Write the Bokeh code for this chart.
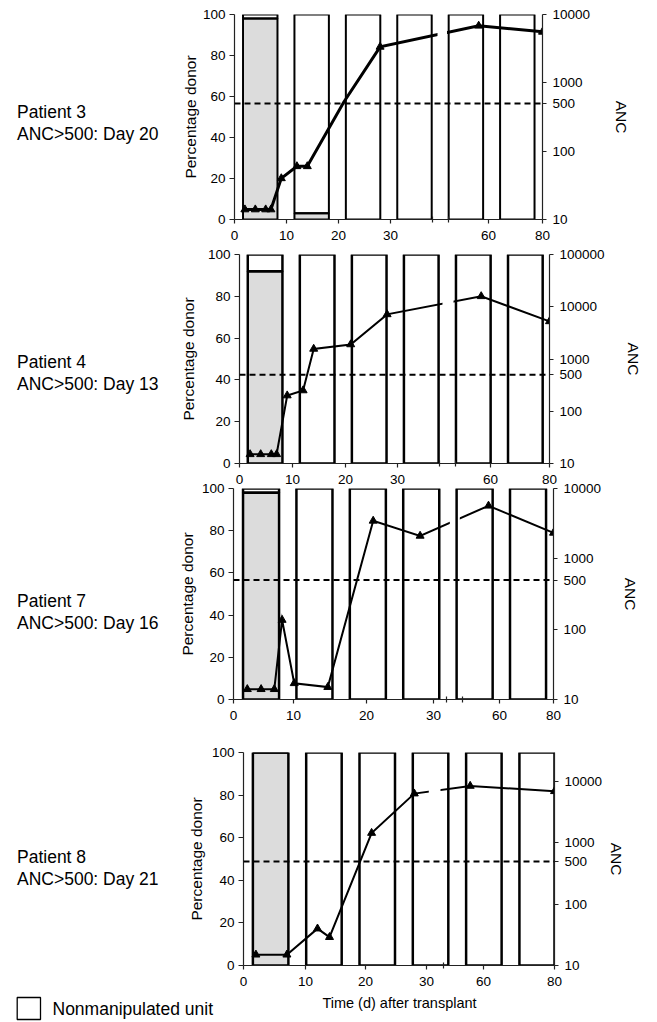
import numpy as np
from bokeh.plotting import figure
from bokeh.models import Range1d, LogScale, LogAxis, FixedTicker, Span, ColumnDataSource, Div
from bokeh.layouts import column, row
from bokeh.embed import file_html
from bokeh.resources import INLINE
from bokeh.core.properties import value

FONT = "Liberation Sans"
GRAY = "#dcdcdc"
INK = "#222222"

# ---------------- data ----------------
X_TICK_DAYS = [0, 10, 20, 30, 60, 80]
X_TICK_LABELS = ["0", "10", "20", "30", "60", "80"]
PCT_TICKS = [0, 20, 40, 60, 80, 100]
BAR_SLOTS = [0, 1, 2, 3, 4, 5]
ANC_THRESHOLD = 500

PATIENTS = ["Patient 3", "Patient 4", "Patient 7", "Patient 8"]
ENGRAFT_DAY = [20, 13, 16, 21]
X_TITLE = "Time (d) after transplant"
LEGEND_TEXT = "Nonmanipulated unit"

# Patient 3
P3_DAYS = [2, 4, 6, 7, 9, 12, 14, 21, 28, 57, 80]
P3_ANC = [14, 14, 14, 14, 40, 60, 60, 520, 3360, 6830, 5570]
P3_MARK = [1, 1, 1, 1, 1, 1, 1, 0, 1, 1, 1]
P3_MANIP = [98, 3, 0, 0, 0, 0]

# Patient 4
P4_DAYS = [2, 4, 6, 7, 9, 12, 14, 21, 28, 57, 80]
P4_ANC = [15, 15, 15, 15, 200, 250, 1560, 1900, 7150, 15850, 5250]
P4_MARK = [1] * 11
P4_MANIP = [92, 0, 0, 0, 0, 0]

# Patient 7
P7_DAYS = [2.3, 4.6, 6.8, 8.1, 10.1, 14.7, 21, 28, 55, 80]
P7_ANC = [14, 14, 14, 135, 17, 15, 3470, 2120, 5680, 2340]
P7_MARK = [1] * 10
P7_MANIP = [98, 0, 0, 0, 0, 0]

# Patient 8
P8_DAYS = [2, 7, 12, 14, 21, 28, 53, 80]
P8_ANC = [15, 15, 40, 29, 1455, 6400, 8530, 6990]
P8_MARK = [1] * 8
P8_MANIP = [100, 0, 0, 0, 0, 0]

SERIES = [
    (P3_DAYS, P3_ANC, P3_MARK, P3_MANIP),
    (P4_DAYS, P4_ANC, P4_MARK, P4_MANIP),
    (P7_DAYS, P7_ANC, P7_MARK, P7_MANIP),
    (P8_DAYS, P8_ANC, P8_MARK, P8_MANIP),
]

# ---------------- layout (pixels) ----------------
LEFT_W = 160          # caption column width
MAIN_W = 496          # chart figure width
LAYOUT = [
    dict(left=234, fw=308, fh=205, top=14, bottom=28, shift=0, cap_pad=102,
         ticks=[0, 52, 104, 156, 254, 308], breaks=[198.4, 214.4], gap=[203, 212.5],
         bar_range=(-0.501, 5.49), bw=0.67, anc_top=10000, lw=3, blw=2, ylab_st=1, rlab_st=20),
    dict(left=239, fw=310, fh=209, top=9, bottom=28, shift=-2, cap_pad=107,
         ticks=[0, 53, 106, 158, 251, 310], breaks=[200.3, 216], gap=[203, 214],
         bar_range=(-0.492, 5.464), bw=0.666, anc_top=100000, lw=2, blw=2.5, ylab_st=8, rlab_st=17),
    dict(left=233, fw=320, fh=211, top=9, bottom=28, shift=-12, cap_pad=112,
         ticks=[0, 60, 133, 200, 266, 320], breaks=[213, 229], gap=[216.3, 226.3],
         bar_range=(-0.516, 5.477), bw=0.675, anc_top=10000, lw=2, blw=2.5, ylab_st=3, rlab_st=18),
    dict(left=243, fw=311, fh=213, top=25, bottom=28, shift=0, cap_pad=120,
         ticks=[0, 62, 122, 183, 240, 311], breaks=[199.7], gap=[185.3, 197],
         bar_range=(-0.509, 5.325), bw=0.666, anc_top=30000, lw=2, blw=2.5, ylab_st=4, rlab_st=3),
]
CAPTION_X = 17
STRIP_H = 28
STRIP_TOP = 993
X_TITLE_POS = (399, 1002.5)
LEGEND_BOX = (16.7, 40.0, 997.0, 1019.0)   # left, right, top, bottom
LEGEND_TEXT_POS = (52, 1008)


def style_axis(ax, size="13.5px"):
    ax.axis_line_color = INK
    ax.axis_line_width = 1.2
    ax.major_tick_line_color = INK
    ax.major_tick_line_width = 1.2
    ax.major_tick_in = 0
    ax.major_tick_out = 5
    ax.minor_tick_in = 0
    ax.minor_tick_out = 0
    ax.major_label_text_font = FONT
    ax.major_label_text_font_size = size
    ax.major_label_text_color = "black"
    ax.axis_label_text_font = FONT
    ax.axis_label_text_font_style = "normal"
    ax.axis_label_text_color = "black"


def make_panel(idx):
    days, anc, marks, manip = SERIES[idx]
    lay = LAYOUT[idx]
    fw, fh = lay["fw"], lay["fh"]
    bl = lay["left"] - LEFT_W
    p = figure(width=MAIN_W, height=lay["top"] + fh + lay["bottom"],
               x_range=Range1d(0, fw), y_range=Range1d(0, 100),
               output_backend="svg", toolbar_location=None,
               min_border_left=bl, min_border_right=MAIN_W - bl - fw,
               min_border_top=lay["top"], min_border_bottom=lay["bottom"])
    p.outline_line_color = None
    p.xgrid.visible = False
    p.ygrid.visible = False
    p.background_fill_color = "white"
    p.border_fill_color = None

    p.extra_x_ranges = {"bars": Range1d(*lay["bar_range"])}
    p.extra_y_ranges = {"anc": Range1d(10, lay["anc_top"])}
    p.extra_y_scales = {"anc": LogScale()}

    tick_px = [float(t) for t in lay["ticks"]]
    xs = np.interp(days, X_TICK_DAYS, tick_px)

    nonmanip = [100 - m for m in manip]
    bsrc = ColumnDataSource(dict(x=BAR_SLOTS, manip=manip,
                                 top=[m + n for m, n in zip(manip, nonmanip)]))
    p.vbar(x="x", width=lay["bw"], bottom=0, top="manip", source=bsrc, x_range_name="bars",
           fill_color=GRAY, line_color=None)
    p.vbar(x="x", width=lay["bw"], bottom="manip", top="top", source=bsrc, x_range_name="bars",
           fill_color="white", line_color=None)

    lsrc = ColumnDataSource(dict(x=xs, y=anc))
    p.line(x="x", y="y", source=lsrc, y_range_name="anc", line_color="black",
           line_width=lay["lw"], line_join="miter")

    # gap in the line where the time axis is broken
    p.quad(left=[lay["gap"][0]], right=[lay["gap"][1]], bottom=[0], top=[100],
           fill_color="white", line_color=None)

    gsrc = ColumnDataSource(dict(x=[b for b, m in zip(BAR_SLOTS, manip) if m > 0],
                                 manip=[m for m in manip if m > 0]))
    p.vbar(x="x", width=lay["bw"], bottom=0, top="manip", source=gsrc, x_range_name="bars",
           fill_color=None, line_color="black", line_width=lay["blw"])
    p.vbar(x="x", width=lay["bw"], bottom="manip", top="top", source=bsrc, x_range_name="bars",
           fill_color=None, line_color="black", line_width=lay["blw"])

    msrc = ColumnDataSource(dict(x=[x for x, m in zip(xs, marks) if m],
                                 y=[a for a, m in zip(anc, marks) if m]))
    p.scatter(x="x", y="y", source=msrc, y_range_name="anc", marker="triangle",
              size=8, fill_color="black", line_color="black")

    p.add_layout(Span(location=ANC_THRESHOLD, dimension="width", y_range_name="anc",
                      line_color="black", line_width=2, line_dash="6 4"))

    xa = p.xaxis[0]
    style_axis(xa)
    xa.ticker = FixedTicker(ticks=tick_px, minor_ticks=lay["breaks"])
    xa.major_label_overrides = {t: l for t, l in zip(tick_px, X_TICK_LABELS)}
    xa.major_label_standoff = 7
    xa.major_tick_out = 4
    xa.minor_tick_in = 3
    xa.minor_tick_out = 3
    xa.minor_tick_line_color = INK
    xa.minor_tick_line_width = 1.2

    ya = p.yaxis[0]
    style_axis(ya)
    ya.ticker = FixedTicker(ticks=PCT_TICKS)
    ya.major_label_standoff = 4
    ya.axis_label = "Percentage donor"
    ya.axis_label_text_font_size = "15.5px"
    ya.axis_label_standoff = lay["ylab_st"]

    anc_ticks = [10 ** k for k in range(1, int(np.floor(np.log10(lay["anc_top"]) + 1e-9)) + 1)]
    anc_ticks = sorted(anc_ticks + [ANC_THRESHOLD])
    ra = LogAxis(y_range_name="anc", ticker=FixedTicker(ticks=anc_ticks))
    style_axis(ra)
    ra.major_tick_out = 4
    ra.major_label_standoff = 6
    ra.major_label_overrides = {t: str(t) for t in anc_ticks}
    ra.axis_label = "ANC"
    ra.axis_label_text_font_size = "15.5px"
    ra.axis_label_standoff = lay["rlab_st"]
    p.add_layout(ra, "right")
    return p


def caption(idx):
    lay = LAYOUT[idx]
    h = lay["top"] + lay["fh"] + lay["bottom"]
    html = (f'<div style="padding-top:{lay["cap_pad"]}px;padding-left:{CAPTION_X}px;'
            f'font-family:\'{FONT}\';font-size:17.5px;line-height:21.7px;color:black;'
            f'white-space:nowrap;">{PATIENTS[idx]}<br>ANC&gt;500: Day {ENGRAFT_DAY[idx]}</div>')
    return Div(text=html, width=LEFT_W, height=h, margin=0)


rows = []
for i in range(4):
    lay = LAYOUT[i]
    rows.append(row(caption(i), make_panel(i), spacing=0,
                    margin=(lay["shift"], 0, 0, 0)))

# bottom strip: axis title + legend (data units = page pixels)
W_ALL = LEFT_W + MAIN_W
strip = figure(width=W_ALL, height=STRIP_H, x_range=Range1d(0, W_ALL),
               y_range=Range1d(STRIP_TOP + STRIP_H, STRIP_TOP),
               output_backend="svg", toolbar_location=None,
               x_axis_type=None, y_axis_type=None, min_border=0)
strip.outline_line_color = None
strip.xgrid.visible = False
strip.ygrid.visible = False
strip.border_fill_color = None
strip.background_fill_color = None
strip.text(x=[X_TITLE_POS[0]], y=[X_TITLE_POS[1]], text=[X_TITLE], text_font=value(FONT),
           text_font_size=value("14.5px"), text_align="center", text_baseline="middle",
           text_color="black")
l, r, t, b = LEGEND_BOX
strip.quad(left=[l], right=[r], top=[t], bottom=[b], fill_color="white",
           line_color="black", line_width=1.3)
strip.text(x=[LEGEND_TEXT_POS[0]], y=[LEGEND_TEXT_POS[1]], text=[LEGEND_TEXT],
           text_font=value(FONT), text_font_size=value("17.5px"), text_align="left",
           text_baseline="middle", text_color="black")

layout = column(*rows, strip, spacing=0)
open("out.html", "w").write(file_html(layout, INLINE))
